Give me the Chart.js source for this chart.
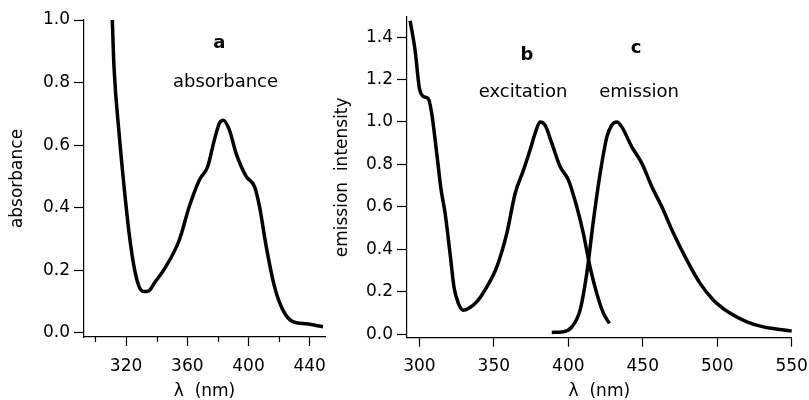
<!DOCTYPE html>
<html>
<head>
<meta charset="utf-8">
<script src="https://cdn.jsdelivr.net/npm/chart.js@4"></script>
<style>
  body { margin: 0; background: #fff; }
  #wrap { position: relative; width: 809px; height: 400px; overflow: hidden; }
  canvas { position: absolute; top: 0; }
  #left { left: 0; }
  #right { left: 330px; }
</style>
</head>
<body>
<div id="wrap">
  <canvas id="left" width="330" height="400"></canvas>
  <canvas id="right" width="479" height="400"></canvas>
</div>
<script>
// panel a: absorbance
const absWl = [311, 312.1, 315.4, 318.7, 322, 325.2, 328.5, 331.8, 335, 338.4, 346, 354.8, 361.3, 367.9, 373.3, 377.7, 381, 383.6, 387.5, 391.9, 398.5, 404, 407.2, 411.6, 417, 422.5, 429, 437.8, 448.7];
const absVal = [1.0, 0.85, 0.64, 0.467, 0.318, 0.212, 0.148, 0.132, 0.135, 0.159, 0.212, 0.297, 0.404, 0.489, 0.531, 0.617, 0.67, 0.68, 0.649, 0.574, 0.50, 0.467, 0.404, 0.276, 0.148, 0.073, 0.036, 0.029, 0.02];

// panel b: excitation
const excWl = [293.8, 297.1, 300, 302.7, 306, 308.3, 311.7, 314.6, 317.3, 320.6, 323.3, 326.2, 329.6, 332.9, 338.5, 345.3, 352, 358.7, 364.3, 369.9, 374.3, 377.7, 381, 384.4, 388.9, 394.5, 400.1, 405.7, 410.1, 414.6, 419.1, 423.6, 427.6];
const excVal = [1.477, 1.34, 1.16, 1.12, 1.11, 1.04, 0.85, 0.68, 0.57, 0.38, 0.22, 0.145, 0.113, 0.121, 0.152, 0.223, 0.317, 0.475, 0.663, 0.773, 0.868, 0.946, 1.0, 0.985, 0.90, 0.79, 0.726, 0.60, 0.475, 0.317, 0.192, 0.098, 0.05];

// panel c: emission
const emWl = [388.9, 396.7, 402.4, 407.9, 412.4, 416.9, 421.4, 425.9, 429.2, 432.6, 435.9, 442.6, 449.4, 456.1, 462.8, 470.6, 479.6, 488.5, 497.5, 508.7, 519.9, 531, 542.2, 550];
const emVal = [0.008, 0.011, 0.034, 0.113, 0.286, 0.537, 0.758, 0.93, 0.985, 1.0, 0.977, 0.883, 0.805, 0.695, 0.60, 0.475, 0.349, 0.239, 0.160, 0.098, 0.058, 0.034, 0.022, 0.014];

// ticks
const leftXTicks = [320, 360, 400, 440];
const leftXMinor = [300, 340, 380, 420];
const leftYTicks = [0, 0.2, 0.4, 0.6, 0.8, 1.0];
const rightXTicks = [300, 350, 400, 450, 500, 550];
const rightYTicks = [0, 0.2, 0.4, 0.6, 0.8, 1.0, 1.2, 1.4];

Chart.defaults.font.family = '"DejaVu Sans", sans-serif';
Chart.defaults.font.size = 17;
Chart.defaults.color = "#000";

const toPoints = (xs, ys) => xs.map((x, i) => ({ x: x, y: ys[i] }));

function curve(xs, ys) {
  return {
    data: toPoints(xs, ys),
    showLine: true,
    borderColor: "#000",
    borderWidth: 3.5,
    pointRadius: 0,
    cubicInterpolationMode: "monotone",
    clip: false,
  };
}

// text labels placed in data coordinates
const labelPlugin = {
  id: "labels",
  afterDraw(chart, args, opts) {
    const ctx = chart.ctx;
    const sx = chart.scales.x, sy = chart.scales.y;
    ctx.save();
    ctx.fillStyle = "#000";
    ctx.textAlign = "center";
    ctx.textBaseline = "middle";
    (opts.items || []).forEach((it) => {
      ctx.font = (it.bold ? "bold 18px " : "18px ") + '"DejaVu Sans"';
      ctx.fillText(it.text, sx.getPixelForValue(it.x), sy.getPixelForValue(it.y));
    });
    // minor x ticks
    ctx.strokeStyle = "#000";
    ctx.lineWidth = 1.2;
    (opts.minor || []).forEach((v) => {
      const px = Math.round(sx.getPixelForValue(v)) + 0.5;
      ctx.beginPath();
      ctx.moveTo(px, sx.top);
      ctx.lineTo(px, sx.top + 5);
      ctx.stroke();
    });
    ctx.restore();
  },
};

function axisOpts(o) {
  return {
    type: "linear",
    min: o.min,
    max: o.max,
    afterBuildTicks: (s) => { s.ticks = o.ticks.map((v) => ({ value: v })); },
    afterFit: (s) => { o.fit(s); s.paddingLeft = 0; s.paddingRight = 0; s.paddingTop = 0; s.paddingBottom = 0; },
    border: { display: true, color: "#000", width: 1.2 },
    grid: { display: true, drawOnChartArea: false, drawTicks: true, tickLength: o.tickLen, tickColor: "#000", tickWidth: 1.2 },
    ticks: { padding: o.pad, color: "#000", maxRotation: 0, autoSkip: false, callback: o.fmt },
    title: { display: true, text: o.title, color: "#000", font: { size: 17 }, padding: o.titlePad },
  };
}

new Chart(document.getElementById("left"), {
  type: "scatter",
  data: { datasets: [curve(absWl, absVal)] },
  options: {
    responsive: false,
    animation: false,
    layout: { padding: { top: 20, right: 5, left: 0, bottom: 0 } },
    plugins: {
      legend: { display: false },
      tooltip: { enabled: false },
      labels: {
        minor: leftXMinor,
        items: [
          { text: "a", x: 381, y: 0.926, bold: true },
          { text: "absorbance", x: 385, y: 0.80 },
        ],
      },
    },
    scales: {
      x: axisOpts({ min: 292.5, max: 450, ticks: leftXTicks, tickLen: 9, pad: 10, fmt: (v) => String(v),
        title: "λ  (nm)", titlePad: { bottom: -2 }, fit: (s) => { s.height = 63; } }),
      y: axisOpts({ min: -0.013, max: 1.0, ticks: leftYTicks, tickLen: 10, pad: 4, fmt: (v) => v.toFixed(1),
        title: "absorbance", titlePad: { top: 7 }, fit: (s) => { s.width = 84; } }),
    },
  },
  plugins: [labelPlugin],
});

new Chart(document.getElementById("right"), {
  type: "scatter",
  data: { datasets: [curve(excWl, excVal), curve(emWl, emVal)] },
  options: {
    responsive: false,
    animation: false,
    layout: { padding: { top: 17, right: 17.3, left: 0, bottom: 0 } },
    plugins: {
      legend: { display: false },
      tooltip: { enabled: false },
      labels: {
        items: [
          { text: "b", x: 372.3, y: 1.315, bold: true },
          { text: "excitation", x: 369.6, y: 1.141 },
          { text: "c", x: 445.5, y: 1.348, bold: true },
          { text: "emission", x: 447.5, y: 1.141 },
        ],
      },
    },
    scales: {
      x: axisOpts({ min: 291.7, max: 550, ticks: rightXTicks, tickLen: 9, pad: 10, fmt: (v) => String(v),
        title: "λ  (nm)", titlePad: { bottom: -2 }, fit: (s) => { s.height = 62.3; } }),
      y: axisOpts({ min: -0.017, max: 1.495, ticks: rightYTicks, tickLen: 10, pad: 4, fmt: (v) => v.toFixed(1),
        title: "emission  intensity", titlePad: { top: 2 }, fit: (s) => { s.width = 77; } }),
    },
  },
  plugins: [labelPlugin],
});
</script>
</body>
</html>
